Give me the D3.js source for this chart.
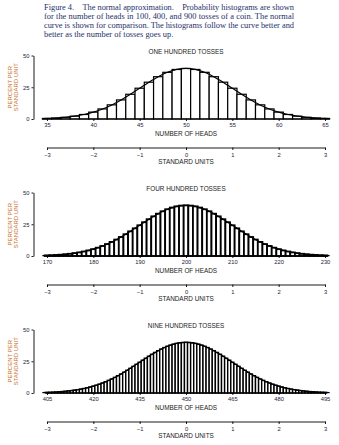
<!DOCTYPE html>
<html lang="en">
<head>
<meta charset="UTF-8">
<title>Figure 4. The normal approximation</title>
<style>
    body { margin: 0; background: #fff; }
    svg { display: block; }
    .caption { font-family: "Liberation Serif", "Times New Roman", serif; font-size: 8.4px; fill: #24306a; }
    .sans { font-family: "Liberation Sans", Arial, sans-serif; }
    .title, .xlabel { font-size: 6.4px; fill: #222; }
    .ylabel { font-size: 6px; fill: #c6702a; }
    .axis text { font-family: "Liberation Sans", Arial, sans-serif; font-size: 5.8px; fill: #1e2238; }
    .axis path, .axis line { stroke: #000; stroke-width: 0.9px; }
</style>
</head>
<body>
<svg id="chart" width="339" height="445"></svg>
<script src="https://d3js.org/d3.v7.min.js"></script>
<script>
// caption lines
const caption = [
    "Figure 4.\u2003The normal approximation.\u2003Probability histograms are shown",
    "for the number of heads in 100, 400, and 900 tosses of a coin. The normal",
    "curve is shown for comparison. The histograms follow the curve better and",
    "better as the number of tosses goes up."
];

// percent per standard unit, one value per number of heads
const heads100 = d3.range(35, 66);
const values100 = [0.43, 0.78, 1.35, 2.24, 3.56, 5.42, 7.93, 11.15, 15.03, 19.48, 24.24,
    28.98, 33.30, 36.76, 39.01, 39.79, 39.01, 36.76, 33.30, 28.98, 24.24,
    19.48, 15.03, 11.15, 7.93, 5.42, 3.56, 2.24, 1.35, 0.78, 0.43];

const heads400 = d3.range(170, 231);
const values400 = [0.44, 0.60, 0.79, 1.04, 1.36, 1.75, 2.24, 2.83, 3.55, 4.40,
    5.40, 6.56, 7.90, 9.40, 11.09, 12.95, 14.97, 17.14, 19.42, 21.79,
    24.20, 26.61, 28.97, 31.23, 33.32, 35.21, 36.83, 38.14, 39.10, 39.68,
    39.87,
    39.68, 39.10, 38.14, 36.83, 35.21, 33.32, 31.23, 28.97, 26.61, 24.20,
    21.79, 19.42, 17.14, 14.97, 12.95, 11.09, 9.40, 7.90, 6.56, 5.40,
    4.40, 3.55, 2.83, 2.24, 1.75, 1.36, 1.04, 0.79, 0.60, 0.44];

const heads900 = d3.range(405, 496);
const values900 = [0.44, 0.54, 0.66, 0.79, 0.95, 1.14, 1.36, 1.61, 1.90, 2.24,
    2.62, 3.06, 3.55, 4.10, 4.71, 5.40, 6.16, 6.99, 7.90, 8.88,
    9.95, 11.09, 12.31, 13.61, 14.97, 16.40, 17.89, 19.42, 20.99, 22.59,
    24.20, 25.81, 27.40, 28.97, 30.49, 31.94, 33.32, 34.60, 35.78, 36.83,
    37.74, 38.50, 39.10, 39.54, 39.80, 39.88,
    39.80, 39.54, 39.10, 38.50, 37.74, 36.83, 35.78, 34.60, 33.32, 31.94,
    30.49, 28.97, 27.40, 25.81, 24.20, 22.59, 20.99, 19.42, 17.89, 16.40,
    14.97, 13.61, 12.31, 11.09, 9.95, 8.88, 7.90, 6.99, 6.16, 5.40,
    4.71, 4.10, 3.55, 3.06, 2.62, 2.24, 1.90, 1.61, 1.36, 1.14,
    0.95, 0.79, 0.66, 0.54, 0.44];

// normal curve, percent per standard unit
const curveZ = [-3.1, -3.0, -2.8, -2.6, -2.4, -2.2, -2.0, -1.8, -1.6, -1.4, -1.2, -1.0, -0.8, -0.6, -0.4, -0.2,
    0, 0.2, 0.4, 0.6, 0.8, 1.0, 1.2, 1.4, 1.6, 1.8, 2.0, 2.2, 2.4, 2.6, 2.8, 3.0, 3.1];
const curveValues = [0.33, 0.44, 0.79, 1.36, 2.24, 3.55, 5.40, 7.90, 11.09, 14.97, 19.42, 24.20, 28.97, 33.32, 36.83, 39.10,
    39.89, 39.10, 36.83, 33.32, 28.97, 24.20, 19.42, 14.97, 11.09, 7.90, 5.40, 3.55, 2.24, 1.36, 0.79, 0.44, 0.33];

const stdTicks = [-3, -2, -1, 0, 1, 2, 3];
const yTicks = [0, 25, 50];

const panels = [
    {title: "ONE HUNDRED TOSSES", mean: 50, sd: 5, heads: heads100, values: values100,
     ticks: [35, 40, 45, 50, 55, 60, 65], y0: 119, barStroke: 1.2},
    {title: "FOUR HUNDRED TOSSES", mean: 200, sd: 10, heads: heads400, values: values400,
     ticks: [170, 180, 190, 200, 210, 220, 230], y0: 256, barStroke: 1.8},
    {title: "NINE HUNDRED TOSSES", mean: 450, sd: 15, heads: heads900, values: values900,
     ticks: [405, 420, 435, 450, 465, 480, 495], y0: 393, barStroke: 1.4}
];

const svg = d3.select('#chart');

// caption
const cap = svg.append('g');
caption.forEach((line, i) => {
    const t = cap.append('text')
        .attr('class', 'caption')
        .attr('x', 44)
        .attr('y', 9.5 + i * 9)
        .text(line);
    if (i < 3) t.attr('textLength', 250).attr('lengthAdjust', 'spacing');
});

const x = d3.scaleLinear().domain([-3, 3]).range([47, 325]);
const xMid = (x.range()[0] + x.range()[1]) / 2;

panels.forEach(p => {
    const g = svg.append('g');
    const y = d3.scaleLinear().domain([0, 50]).range([p.y0, p.y0 - 63.5]);
    const z = k => (k - p.mean) / p.sd;

    // histogram bars
    g.append('g')
        .selectAll('rect')
        .data(p.heads)
        .enter().append('rect')
        .attr('x', k => x(z(k - 0.5)))
        .attr('width', k => x(z(k + 0.5)) - x(z(k - 0.5)))
        .attr('y', (k, i) => y(p.values[i]))
        .attr('height', (k, i) => p.y0 - y(p.values[i]))
        .attr('fill', '#fff')
        .attr('stroke', '#000')
        .attr('stroke-width', p.barStroke);

    // baseline
    const first = p.heads[0], last = p.heads[p.heads.length - 1];
    g.append('line')
        .attr('x1', x(z(first - 0.5))).attr('x2', x(z(last + 0.5)))
        .attr('y1', p.y0).attr('y2', p.y0)
        .attr('stroke', '#000').attr('stroke-width', 1);

    // normal curve
    const line = d3.line()
        .x((d, i) => x(d))
        .y((d, i) => y(curveValues[i]))
        .curve(d3.curveCatmullRom);
    g.append('path')
        .attr('d', line(curveZ))
        .attr('fill', 'none')
        .attr('stroke', '#000')
        .attr('stroke-width', 1.2);

    // y axis
    g.append('g')
        .attr('class', 'axis')
        .attr('transform', 'translate(33.5,0)')
        .call(d3.axisLeft(y).tickValues(yTicks).tickSize(2).tickSizeOuter(0).tickPadding(2));

    // number of heads axis
    const xHeads = d3.scaleLinear().domain([p.mean - 3 * p.sd, p.mean + 3 * p.sd]).range(x.range());
    const ha = g.append('g')
        .attr('class', 'axis')
        .attr('transform', `translate(0,${p.y0})`)
        .call(d3.axisBottom(xHeads).tickValues(p.ticks).tickSize(2).tickPadding(2.3));
    ha.select('.domain').remove();

    // standard units axis
    g.append('g')
        .attr('class', 'axis')
        .attr('transform', `translate(0,${p.y0 + 28.5})`)
        .call(d3.axisBottom(x).tickValues(stdTicks).tickFormat(d3.format('d'))
            .tickSize(2.5).tickSizeOuter(0).tickPadding(2.5));

    // texts
    g.append('text')
        .attr('class', 'sans title')
        .attr('x', xMid).attr('y', p.y0 - 65.3)
        .attr('text-anchor', 'middle')
        .text(p.title);
    g.append('text')
        .attr('class', 'sans xlabel')
        .attr('x', xMid).attr('y', p.y0 + 17.3)
        .attr('text-anchor', 'middle')
        .text('NUMBER OF HEADS');
    g.append('text')
        .attr('class', 'sans xlabel')
        .attr('x', xMid).attr('y', p.y0 + 44.8)
        .attr('text-anchor', 'middle')
        .text('STANDARD UNITS');

    const yl = g.append('text')
        .attr('class', 'sans ylabel')
        .attr('transform', `translate(12.2,${p.y0 - 31.75}) rotate(-90)`)
        .attr('text-anchor', 'middle');
    yl.append('tspan').attr('x', 0).attr('dy', 0).text('PERCENT PER');
    yl.append('tspan').attr('x', 0).attr('dy', '0.92em').text('STANDARD UNIT');
});
</script>
</body>
</html>
